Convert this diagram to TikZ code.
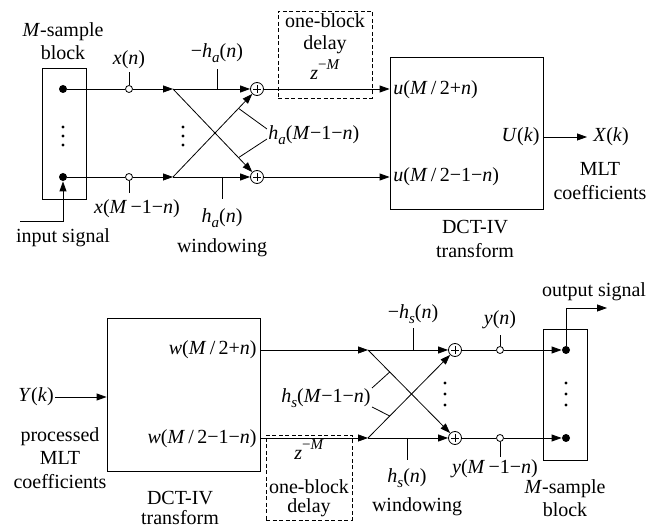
\documentclass[tikz,border=0pt]{standalone}
\usepackage{fontspec}
\setmainfont{Liberation Serif}
\usetikzlibrary{arrows.meta,calc}
\newcommand{\vv}[1]{\textit{#1}}
\newcommand{\sbs}[1]{\raisebox{-0.28em}{\fontsize{15}{15}\selectfont\textit{#1}}}
\newcommand{\zdelay}{\vv{z}\raisebox{0.5em}{\fontsize{15}{15}\selectfont −\vv{M}}}
\begin{document}
\begin{tikzpicture}[x=1pt,y=-1pt,
  font=\fontsize{20}{23.5}\selectfont,
  line width=0.8pt,
  >={Triangle[length=10pt,width=7pt]},
  bigdot/.style={circle,fill,inner sep=0pt,minimum size=8pt},
  opendot/.style={circle,draw,fill=white,inner sep=0pt,minimum size=7pt},
  smalldot/.style={circle,fill,inner sep=0pt,minimum size=3.2pt},
  sumnode/.style={circle,draw,inner sep=0pt,minimum size=13pt,
    path picture={\draw[line width=0.7pt] ($(path picture bounding box.center)+(-4,0)$) -- ++(8,0)
      ($(path picture bounding box.center)+(0,-4)$) -- ++(0,8);}},
  lbl/.style={inner sep=1pt,align=center},
  blockbox/.style={draw,inner sep=0pt},
  delaybox/.style={draw,dash pattern=on 4pt off 2.5pt,inner sep=0pt},
]
\useasboundingbox (0,0) rectangle (649,529);

% ================= TOP: analysis =================
\node[blockbox,minimum width=44,minimum height=131] (inblk) at (64,133.5) {};
\node[bigdot] (d1) at (63,89) {};
\node[bigdot] (d2) at (63,177) {};
\foreach \yy [count=\i] in {127,136,145} \node[smalldot] (vda\i) at (63,\yy) {};
\node[lbl] (msa) at (63,41) {\vv{M}-sample\\block};
\coordinate (insig) at (20,221);
\node[lbl] (insigl) at (63,238) {input signal};

\node[opendot] (o1) at (129,89) {};
\node[opendot] (o2) at (129,177) {};
\coordinate (o1t) at (129,72);
\coordinate (o2t) at (129,193);
\node[lbl] (xn) at (129,60) {\vv{x}(\vv{n})};
\node[lbl] (xm) at (137,209) {\vv{x}(\vv{M}\,−1−\vv{n})};

\coordinate (b1) at (173,89);
\coordinate (b2) at (173,177);
\foreach \yy [count=\i] in {127,136,145} \node[smalldot] (vdb\i) at (183,\yy) {};
\node[sumnode] (p1) at (257,89) {};
\node[sumnode] (p2) at (257,177) {};

\coordinate (t1a) at (217,89); \coordinate (t1b) at (217,69);
\coordinate (t2a) at (222,177); \coordinate (t2b) at (222,199);
\node[lbl] (mha) at (217,53) {−\vv{h}\sbs{a}(\vv{n})};
\node[lbl] (ha) at (222,218) {\vv{h}\sbs{a}(\vv{n})};
\node[lbl] (win1) at (222,248) {windowing};
\node[lbl,anchor=west] (hma) at (267,135) {\vv{h}\sbs{a}(\vv{M}−1−\vv{n})};

\node[delaybox,minimum width=94,minimum height=87] (del1) at (325,54.5) {};
\node[lbl] (del1a) at (325,21) {one-block};
\node[lbl] (del1b) at (325,45) {delay};
\node[lbl] (del1c) at (325,70) {\zdelay};

\node[blockbox,minimum width=153,minimum height=152] (dct1) at (466.5,133) {};
\node[lbl,anchor=west] (u1) at (392,90) {\vv{u}(\vv{M}\,/\,2+\vv{n})};
\node[lbl,anchor=west] (u2) at (392,177) {\vv{u}(\vv{M}\,/\,2−1−\vv{n})};
\node[lbl,anchor=east] (uk) at (541,137) {\vv{U}(\vv{k})};
\coordinate (xkend) at (587,137);
\node[lbl,anchor=west] (xk) at (592,137) {\vv{X}(\vv{k})};
\node[lbl] (mlt1) at (600,181) {MLT\\coefficients};
\node[lbl] (dctl1) at (475,239) {DCT-IV\\transform};

\draw (d1) -- (o1);
\draw (d2) -- (o2);
\draw[->] (insig) -| (d2);
\draw (o1) -- (o1t);
\draw (o2) -- (o2t);
\draw[->] (o1) -- (b1);
\draw[->] (o2) -- (b2);
\draw[->] (b1) -- (p1);
\draw[->] (b2) -- (p2);
\draw[->] (b1) -- (p2);
\draw[->] (b2) -- (p1);
\draw (t1a) -- (t1b);
\draw (t2a) -- (t2b);
\draw (hma.west) ++(0,-6) -- ($(b2)!0.78!(p1)$);
\draw (hma.west) ++(0,4) -- ($(b1)!0.78!(p2)$);
\draw[->] (p1) -- (p1 -| dct1.west);
\draw[->] (p2) -- (p2 -| dct1.west);
\draw[->] (dct1.east |- uk) -- (xkend);

% ================= BOTTOM: synthesis =================
\node[blockbox,minimum width=153,minimum height=153] (dct2) at (183.5,394.5) {};
\node[lbl,anchor=east] (w1) at (258,350) {\vv{w}(\vv{M}\,/\,2+\vv{n})};
\node[lbl,anchor=east] (w2) at (258,439) {\vv{w}(\vv{M}\,/\,2−1−\vv{n})};
\node[lbl] (yk) at (36,397) {\vv{Y}(\vv{k})};
\node[lbl] (pmlt) at (60,458) {processed\\MLT\\coefficients};
\node[inner sep=0pt,align=center,font=\fontsize{20}{20}\selectfont] (dctl2) at (180,508) {DCT-IV\\transform};

\node[delaybox,minimum width=86,minimum height=85] (del2) at (309,477.5) {};
\node[lbl] (del2c) at (309,450) {\zdelay};
\node[lbl] (del2a) at (309,487) {one-block};
\node[lbl] (del2b) at (309,508) {delay};

\coordinate (b3) at (368,350);
\coordinate (b4) at (368,438);
\node[sumnode] (p3) at (455,350) {};
\node[sumnode] (p4) at (455,438) {};
\foreach \yy [count=\i] in {383,394,405} \node[smalldot] (vdc\i) at (445,\yy) {};
\coordinate (t3a) at (413,350); \coordinate (t3b) at (413,328);
\coordinate (t4a) at (407,438); \coordinate (t4b) at (407,460);
\node[lbl] (mhs) at (413,314) {−\vv{h}\sbs{s}(\vv{n})};
\node[lbl] (hs) at (407,478) {\vv{h}\sbs{s}(\vv{n})};
\node[lbl] (win2) at (417,507) {windowing};
\node[lbl,anchor=east] (hms) at (372,398) {\vv{h}\sbs{s}(\vv{M}−1−\vv{n})};

\node[opendot] (o3) at (500,350) {};
\node[opendot] (o4) at (500,438) {};
\coordinate (o3t) at (500,335);
\coordinate (o4t) at (500,457);
\node[lbl] (yn) at (500,320) {\vv{y}(\vv{n})};
\node[lbl] (ym) at (495,469) {\vv{y}(\vv{M}\,−1−\vv{n})};

\node[blockbox,minimum width=44,minimum height=131] (outblk) at (565,394.5) {};
\node[bigdot] (f3) at (566,350) {};
\node[bigdot] (f4) at (566,438) {};
\foreach \yy [count=\i] in {383,394,405} \node[smalldot] (vdd\i) at (566,\yy) {};
\coordinate (osig) at (607,308);
\node[lbl] (osigl) at (594,292) {output signal};
\node[lbl] (msb) at (565,498) {\vv{M}-sample\\block};

\draw[->] (yk.east) -- (dct2.west |- yk);
\draw[->] (dct2.east |- b3) -- (b3);
\draw[->] (dct2.east |- b4) -- (b4);
\draw[->] (b3) -- (p3);
\draw[->] (b4) -- (p4);
\draw[->] (b3) -- (p4);
\draw[->] (b4) -- (p3);
\draw (t3a) -- (t3b);
\draw (t4a) -- (t4b);
\draw (hms.east) ++(0,-10) -- ($(b3)!0.25!(p4)$);
\draw (hms.east) ++(0,9) -- ($(b4)!0.25!(p3)$);
\draw (p3) -- (o3);
\draw (p4) -- (o4);
\draw (o3) -- (o3t);
\draw (o4) -- (o4t);
\draw[->] (o3) -- (f3);
\draw[->] (o4) -- (f4);
\draw[->] (f3) |- (osig);
\end{tikzpicture}
\end{document}
